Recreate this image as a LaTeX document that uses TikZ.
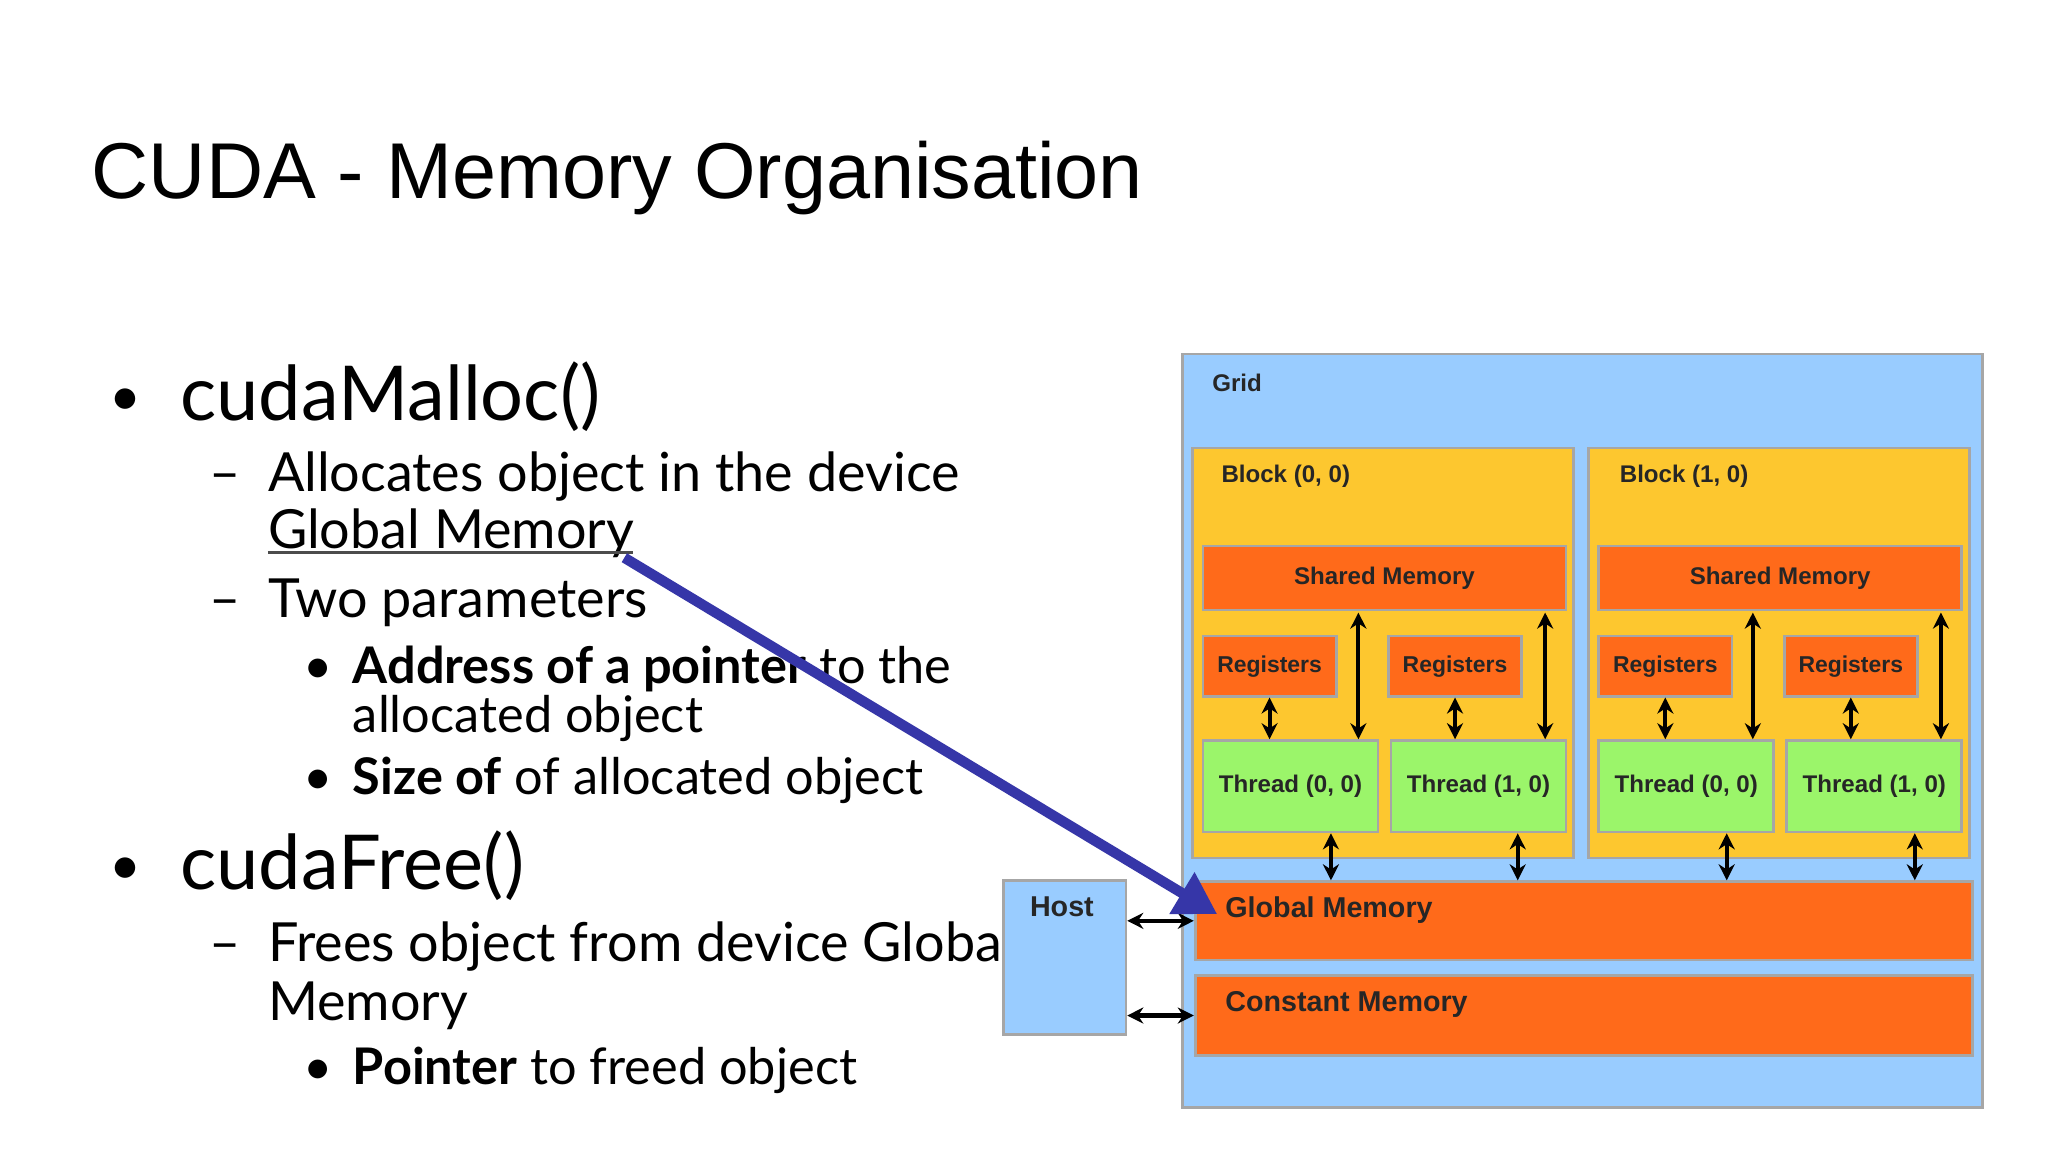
\documentclass[tikz,border=0pt]{standalone}
\usepackage{fontspec}
\setmainfont{Lato}
\newfontfamily\arial{Liberation Sans}
\usetikzlibrary{arrows.meta,calc}
\definecolor{gridblue}{HTML}{99CCFF}
\definecolor{blockyel}{HTML}{FDC72F}
\definecolor{memorg}{HTML}{FF6A1A}
\definecolor{thrgreen}{HTML}{9BF56A}
\definecolor{arrblue}{HTML}{3636A8}
\begin{document}
\begin{tikzpicture}[x=0.02cm,y=-0.02cm,
  box/.style={draw=black!35,line width=1.2pt,inner sep=0pt},
  lbl/.style={font=\arial\bfseries\fontsize{10.5}{13}\selectfont,text=black!85},
  dbl/.style={{Stealth[length=7pt,width=7pt]}-{Stealth[length=7pt,width=7pt]},line width=1.8pt},
  bul/.style={anchor=base west,font=\fontsize{24}{28}\selectfont},
  big/.style={anchor=base west,font=\fontsize{33}{38}\selectfont},
  mid/.style={anchor=base west,font=\fontsize{23.5}{27}\selectfont},
  sm/.style={anchor=base west,font=\fontsize{22}{26}\selectfont}]
\useasboundingbox[fill=white] (0,0) rectangle (1568,882);
% title
\node[anchor=base west,font=\arial\fontsize{34.5}{40}\selectfont] (title) at (64,152) {CUDA - Memory Organisation};
% left text
\node[bul] (b1) at (78,318) {•};
\node[big] (t1) at (132,322) {cudaMalloc()};
\node[mid] (d1) at (154,376) {–};
\node[mid] (t2) at (199,376) {Allocates object in the device};
\node[mid] (t3) at (199,420) {Global Memory};
\draw[black!70,line width=1pt] (t3.base west)++(6,3) -- ++(280,0);
\node[mid] (d2) at (154,473) {–};
\node[mid] (t4) at (199,473) {Two parameters};
\node[sm] (b2) at (226,523) {•};
\node[sm] (t5) at (264,523) {\textbf{Address of a pointer} to the};
\node[sm] (t6) at (264,561) {allocated object};
\node[sm] (b3) at (226,608) {•};
\node[sm] (t7) at (264,608) {\textbf{Size of} of allocated object};
\node[bul] (b4) at (78,677) {•};
\node[big] (t8) at (132,681) {cudaFree()};
\node[mid] (d3) at (154,736) {–};
\node[mid] (t9) at (199,736) {Frees object from device Global};
\node[mid] (t10) at (199,781) {Memory};
\node[sm] (b5) at (226,830) {•};
\node[sm] (t11) at (264,830) {\textbf{Pointer} to freed object};
% diagram
\node[box,fill=gridblue,minimum width=12.26cm,minimum height=11.54cm] (grid) at (1211.5,559.5) {};
\node[lbl,anchor=west] at (922,293) {Grid};
\node[box,fill=blockyel,minimum width=5.84cm,minimum height=6.28cm] (b0) at (1059,500) {};
\node[lbl,anchor=west] at (929,365) {Block (0, 0)};
\node[box,fill=blockyel,minimum width=5.84cm,minimum height=6.28cm] (b1) at (1362,500) {};
\node[lbl,anchor=west] at (1234,365) {Block (1, 0)};
\node[box,fill=memorg,minimum width=5.56cm,minimum height=0.98cm,lbl] (s0) at (1060,442.5) {Shared Memory};
\node[box,fill=memorg,minimum width=5.56cm,minimum height=0.98cm,lbl] (s1) at (1363,442.5) {Shared Memory};
\foreach \n/\cx in {r0/972,r1/1114,r2/1275,r3/1417}{
  \node[box,fill=memorg,minimum width=2.04cm,minimum height=0.92cm,lbl,anchor=center,font=\arial\bfseries\fontsize{10}{12}\selectfont] (\n) at (\cx,510) {Registers};}
\foreach \n/\cx/\lab in {h0/988/{Thread (0, 0)},h1/1132/{Thread (1, 0)},h2/1291/{Thread (0, 0)},h3/1435/{Thread (1, 0)}}{
  \node[box,fill=thrgreen,minimum width=2.68cm,minimum height=1.4cm,lbl,font=\arial\fontsize{10.5}{12}\selectfont\bfseries] (\n) at (\cx,602) {\lab};}
\node[box,fill=memorg,minimum width=11.9cm,minimum height=1.2cm] (gm) at (1212.5,705) {};
\node[lbl,anchor=west,font=\arial\bfseries\fontsize{12.5}{14}\selectfont] at (932,697) {Global Memory};
\node[box,fill=memorg,minimum width=11.9cm,minimum height=1.22cm] (cm) at (1212.5,777.5) {};
\node[lbl,anchor=west,font=\arial\bfseries\fontsize{12.5}{14}\selectfont] at (932,769) {Constant Memory};
\node[box,fill=gridblue,minimum width=1.88cm,minimum height=2.36cm] (host) at (815,733) {};
\node[lbl,font=\arial\bfseries\fontsize{12.5}{14}\selectfont] at (813,694) {Host};
% arrows
\foreach \r/\h in {r0/h0,r1/h1,r2/h2,r3/h3}{
  \draw[dbl] (\r.south) -- (\r.south |- \h.north);}
\foreach \x in {1040,1183,1342,1486}{
  \coordinate (u\x) at (\x,469); \coordinate (v\x) at (\x,566);
  \draw[dbl] (u\x) -- (v\x);}
\foreach \x in {1019,1162,1322,1466}{
  \coordinate (p\x) at (\x,638); \coordinate (q\x) at (\x,674);
  \draw[dbl] (p\x) -- (q\x);}
\draw[dbl] (host.east |- gm.west) -- (gm.west);
\draw[dbl] (host.east |- cm.west) -- (cm.west);
% blue arrow
\coordinate (ba) at (478,427);
\coordinate (bb) at (932,700);
\draw[arrblue,line width=4.5pt,-{Triangle[length=18pt,width=20pt]}] (ba) -- (bb);
\end{tikzpicture}
\end{document}
